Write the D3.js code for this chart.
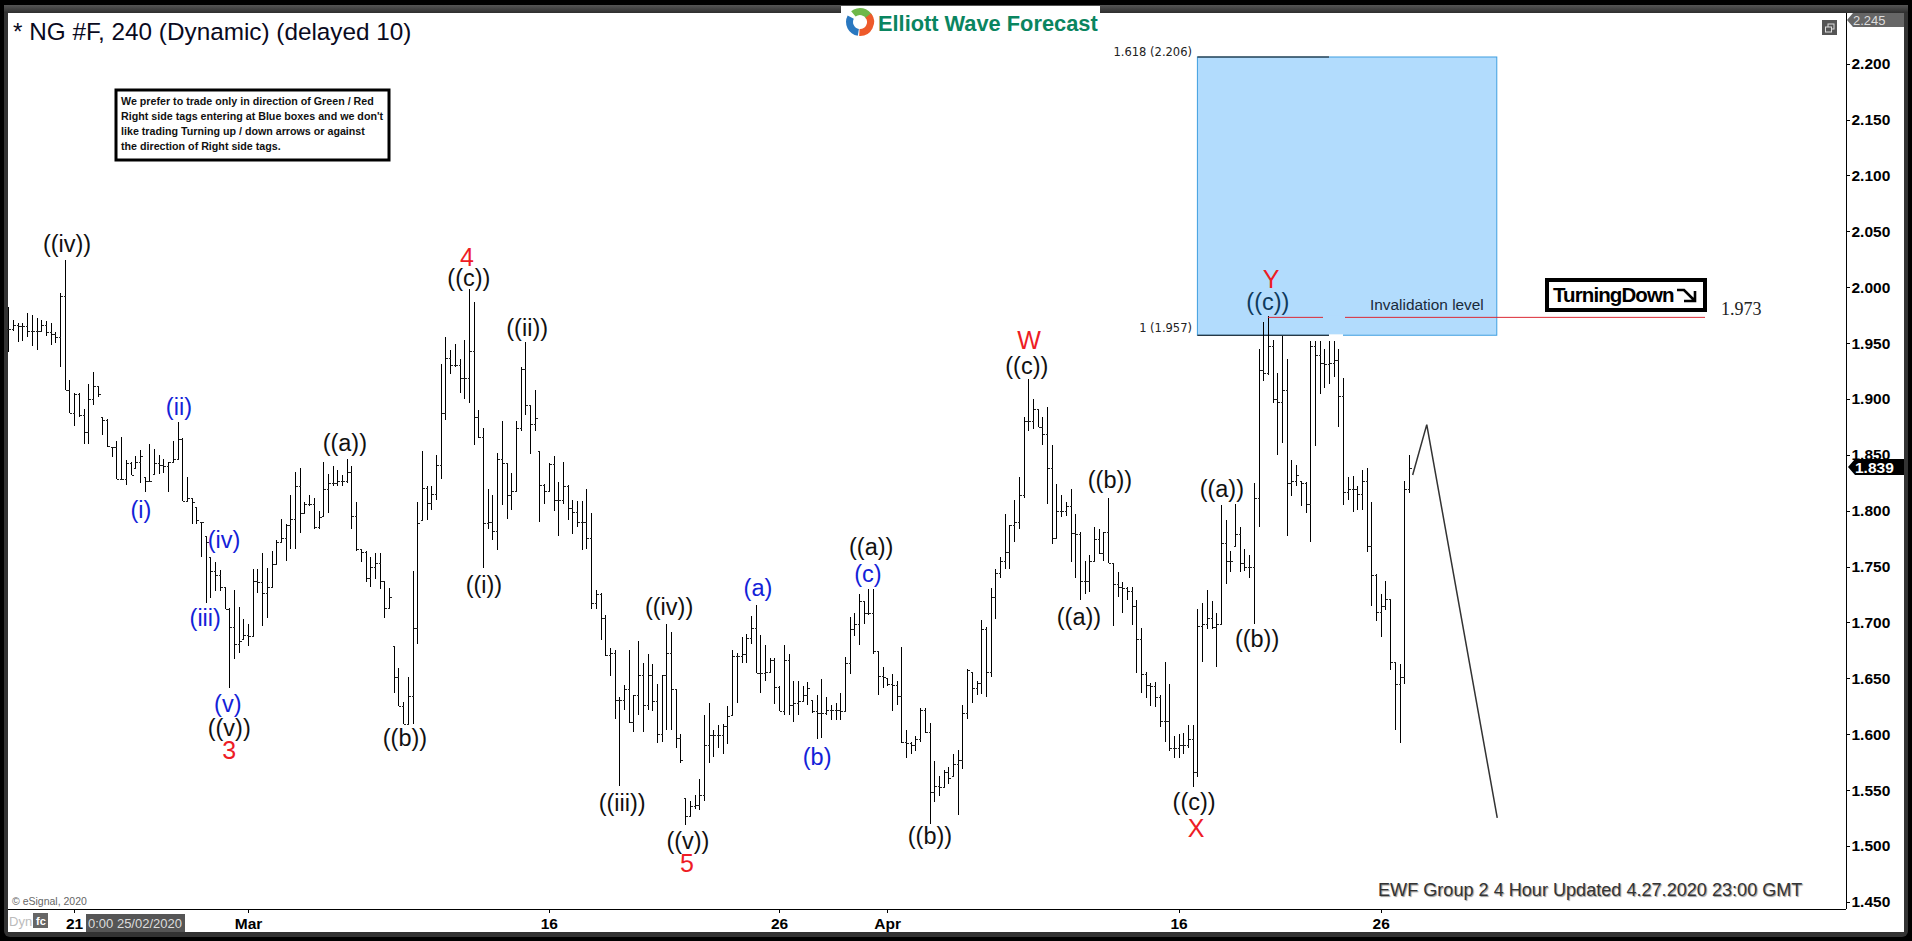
<!DOCTYPE html>
<html><head><meta charset="utf-8">
<style>
html,body{margin:0;padding:0;background:#000;overflow:hidden}
svg{display:block}
text{font-family:"Liberation Sans",Arial,sans-serif}
.axis text{font-weight:700;font-size:15.5px;fill:#000;font-family:"Liberation Sans",Arial,sans-serif}
.axis path,.axis line{stroke:#000;stroke-width:1px;shape-rendering:crispEdges}
</style>
<script src="https://cdn.jsdelivr.net/npm/d3@7/dist/d3.min.js"></script>
</head><body>
<svg id="c" width="1912" height="941"></svg>
<script>
// 4-hour bars, NG #F
const highs=[1.982,1.971,1.968,1.968,1.977,1.975,1.972,1.971,1.970,1.968,1.960,1.995,2.024,1.917,1.905,1.905,1.891,1.913,1.924,1.912,
1.884,1.882,1.857,1.862,1.866,1.845,1.844,1.849,1.854,1.830,1.860,1.855,1.850,1.846,1.844,1.862,1.879,1.865,1.830,1.811,
1.803,1.790,1.777,1.759,1.754,1.747,1.732,1.713,1.729,1.714,1.703,1.699,1.748,1.748,1.762,1.749,1.764,1.774,1.793,1.788,
1.814,1.835,1.838,1.808,1.814,1.811,1.800,1.844,1.833,1.840,1.836,1.832,1.846,1.840,1.808,1.766,1.764,1.759,1.762,1.762,
1.737,1.731,1.679,1.659,1.629,1.651,1.746,1.808,1.853,1.822,1.822,1.850,1.931,1.955,1.944,1.949,1.936,1.953,1.998,1.987,
1.890,1.874,1.819,1.814,1.852,1.880,1.843,1.834,1.880,1.929,1.951,1.895,1.908,1.853,1.824,1.843,1.849,1.826,1.844,1.823,
1.810,1.809,1.809,1.819,1.798,1.729,1.726,1.707,1.677,1.675,1.633,1.644,1.675,1.635,1.683,1.664,1.672,1.663,1.645,1.653,
1.699,1.691,1.640,1.600,1.543,1.540,1.546,1.560,1.617,1.628,1.604,1.608,1.609,1.625,1.675,1.673,1.687,1.690,1.706,1.716,
1.689,1.680,1.668,1.668,1.643,1.680,1.672,1.648,1.648,1.643,1.647,1.631,1.635,1.649,1.633,1.626,1.628,1.637,1.669,1.705,
1.708,1.725,1.719,1.730,1.730,1.674,1.660,1.650,1.654,1.648,1.678,1.604,1.593,1.598,1.623,1.623,1.610,1.576,1.563,1.568,
1.571,1.582,1.586,1.626,1.658,1.656,1.648,1.702,1.696,1.731,1.748,1.759,1.797,1.787,1.810,1.830,1.884,1.918,1.900,1.891,
1.884,1.893,1.859,1.824,1.814,1.808,1.819,1.797,1.781,1.755,1.760,1.785,1.784,1.781,1.811,1.753,1.745,1.736,1.732,1.732,
1.720,1.695,1.656,1.646,1.647,1.635,1.665,1.645,1.598,1.600,1.601,1.608,1.608,1.712,1.717,1.729,1.719,1.708,1.805,1.792,
1.764,1.806,1.785,1.766,1.760,1.825,1.945,1.969,1.974,1.953,1.923,1.956,1.936,1.845,1.841,1.827,1.826,1.952,1.952,1.952,
1.945,1.952,1.952,1.945,1.919,1.830,1.831,1.822,1.836,1.838,1.808,1.743,1.725,1.737,1.721,1.665,1.663,1.827,1.850];
const lows=[1.942,1.961,1.951,1.952,1.955,1.947,1.944,1.961,1.956,1.948,1.950,1.929,1.908,1.887,1.876,1.884,1.860,1.860,1.895,1.902,
1.868,1.857,1.848,1.828,1.828,1.823,1.832,1.838,1.825,1.817,1.827,1.833,1.833,1.834,1.817,1.844,1.846,1.809,1.809,1.788,
1.788,1.759,1.717,1.722,1.728,1.728,1.712,1.641,1.667,1.673,1.685,1.679,1.687,1.726,1.697,1.704,1.731,1.752,1.772,1.755,
1.766,1.766,1.780,1.798,1.804,1.784,1.784,1.795,1.798,1.822,1.822,1.822,1.825,1.784,1.764,1.754,1.736,1.732,1.739,1.730,
1.704,1.712,1.637,1.625,1.609,1.609,1.609,1.681,1.792,1.792,1.801,1.810,1.828,1.881,1.922,1.929,1.905,1.900,1.896,1.859,
1.865,1.749,1.784,1.774,1.765,1.805,1.793,1.801,1.818,1.871,1.886,1.851,1.871,1.790,1.806,1.818,1.800,1.777,1.806,1.792,
1.779,1.785,1.765,1.766,1.712,1.712,1.684,1.670,1.652,1.614,1.554,1.622,1.610,1.602,1.617,1.602,1.622,1.621,1.592,1.593,
1.604,1.604,1.588,1.574,1.519,1.527,1.533,1.532,1.540,1.574,1.580,1.588,1.582,1.591,1.617,1.628,1.664,1.664,1.681,1.655,
1.637,1.648,1.655,1.627,1.621,1.617,1.617,1.611,1.617,1.630,1.626,1.619,1.596,1.597,1.617,1.613,1.613,1.613,1.621,1.654,
1.688,1.680,1.699,1.707,1.672,1.635,1.641,1.643,1.621,1.626,1.592,1.579,1.582,1.585,1.593,1.601,1.520,1.539,1.545,1.553,
1.555,1.563,1.528,1.569,1.614,1.628,1.635,1.636,1.633,1.651,1.703,1.740,1.748,1.748,1.772,1.784,1.811,1.871,1.873,1.875,
1.859,1.806,1.770,1.776,1.794,1.795,1.754,1.740,1.720,1.725,1.727,1.755,1.761,1.755,1.753,1.697,1.723,1.708,1.720,1.698,
1.655,1.637,1.632,1.625,1.624,1.606,1.593,1.585,1.579,1.579,1.582,1.588,1.553,1.562,1.665,1.694,1.694,1.660,1.698,1.734,
1.745,1.768,1.745,1.746,1.740,1.699,1.785,1.916,1.921,1.896,1.850,1.861,1.777,1.813,1.822,1.804,1.798,1.772,1.858,1.904,
1.910,1.913,1.920,1.875,1.805,1.810,1.799,1.801,1.801,1.763,1.715,1.701,1.687,1.711,1.657,1.604,1.592,1.645,1.816];
const closes=[1.963,1.966,1.965,1.965,1.961,1.961,1.961,1.966,1.960,1.958,1.955,1.992,1.908,1.887,1.904,1.886,1.870,1.900,1.912,1.904,
1.881,1.858,1.857,1.828,1.828,1.843,1.832,1.844,1.849,1.827,1.827,1.843,1.841,1.840,1.844,1.846,1.864,1.809,1.811,1.808,
1.792,1.790,1.772,1.746,1.742,1.732,1.712,1.696,1.681,1.683,1.689,1.688,1.737,1.736,1.726,1.732,1.752,1.772,1.776,1.787,
1.793,1.822,1.798,1.806,1.806,1.785,1.794,1.819,1.825,1.825,1.827,1.827,1.835,1.795,1.766,1.763,1.740,1.750,1.753,1.737,
1.713,1.723,1.651,1.625,1.609,1.634,1.695,1.789,1.820,1.807,1.815,1.841,1.887,1.937,1.930,1.930,1.919,1.919,1.943,1.884,
1.866,1.789,1.790,1.782,1.846,1.843,1.814,1.818,1.874,1.927,1.895,1.878,1.883,1.823,1.818,1.842,1.810,1.810,1.822,1.802,
1.799,1.790,1.790,1.776,1.717,1.725,1.704,1.671,1.673,1.631,1.631,1.640,1.611,1.635,1.653,1.626,1.653,1.630,1.600,1.653,
1.673,1.640,1.597,1.577,1.527,1.536,1.537,1.546,1.590,1.599,1.599,1.599,1.607,1.616,1.670,1.670,1.672,1.686,1.695,1.655,
1.655,1.656,1.666,1.642,1.621,1.666,1.626,1.628,1.630,1.635,1.641,1.621,1.619,1.619,1.622,1.622,1.622,1.621,1.664,1.694,
1.699,1.719,1.708,1.708,1.674,1.652,1.651,1.645,1.644,1.634,1.593,1.592,1.590,1.596,1.622,1.602,1.548,1.554,1.553,1.566,
1.561,1.573,1.577,1.619,1.657,1.641,1.646,1.694,1.656,1.723,1.744,1.755,1.763,1.787,1.790,1.814,1.880,1.880,1.891,1.875,
1.869,1.838,1.776,1.800,1.800,1.804,1.780,1.779,1.737,1.737,1.755,1.775,1.762,1.781,1.753,1.734,1.732,1.731,1.728,1.715,
1.685,1.654,1.644,1.643,1.633,1.612,1.612,1.588,1.588,1.590,1.590,1.596,1.566,1.697,1.699,1.704,1.696,1.699,1.771,1.755,
1.755,1.779,1.753,1.750,1.750,1.811,1.926,1.923,1.947,1.900,1.897,1.908,1.825,1.827,1.832,1.825,1.806,1.947,1.939,1.932,
1.931,1.932,1.935,1.903,1.817,1.819,1.819,1.815,1.827,1.768,1.742,1.709,1.715,1.721,1.665,1.645,1.651,1.819,1.838];

// x axis (bar index of each labelled date)
const dateTickBars=[14,51,115,164,187,249,292];
const dateTickLabels=["21","Mar","16","26","Apr","16","26"];
// y axis
const priceTicks=[2.2,2.15,2.1,2.05,2.0,1.95,1.9,1.85,1.8,1.75,1.7,1.65,1.6,1.55,1.5,1.45];
// wave labels
const blackText=["((iv))","((a))","((b))","((v))","((c))","((i))","((ii))","((iii))","((iv))","((v))","((a))","((b))","((c))","((a))","((b))","((c))","((a))","((b))"];
const blackBar=[12.5,71.6,84.4,47,98,101.2,110.4,130.6,140.6,144.6,183.6,196.1,216.7,227.8,234.4,252.3,258.2,265.7];
const blackPrice=[2.039,1.861,1.597,1.606,2.009,1.734,1.964,1.539,1.714,1.505,1.768,1.509,1.930,1.705,1.828,1.540,1.820,1.686];
const blueText=["(ii)","(i)","(iv)","(iii)","(v)","(a)","(c)","(b)"];
const blueBar=[36.3,28.2,45.9,41.9,46.7,159.5,182.9,172.1];
const bluePrice=[1.893,1.801,1.774,1.704,1.627,1.731,1.744,1.580];
const redText=["3","4","5","W","X","Y"];
const redBar=[47,97.6,144.4,217.2,252.7,268.7];
const redPrice=[1.586,2.027,1.485,1.953,1.516,2.007];
// blue box and levels
const boxBars=[253,316.7];
const boxEdgeBar=281;
const boxPrices=[2.206,1.957];
const invalidation=1.973;
const invalidationBars=[268,361];
const projBars=[298.8,301.8,316.8];
const projPrices=[1.832,1.877,1.525];
const lastPrice=1.839;

const svg=d3.select("#c");
const W=1912,H=941;
const x=d3.scaleLinear().domain([0,298]).range([8.3,1408.9]);
const y=d3.scaleLinear().domain([2.2,1.45]).range([63.7,901.8]);
const axisX=1846,axisY=909;

// frame
svg.append("rect").attr("width",W).attr("height",H).attr("fill","#000");
const grad=svg.append("defs").append("linearGradient").attr("id","tb").attr("x2",0).attr("y2",1);
grad.append("stop").attr("offset",0).attr("stop-color","#555");
grad.append("stop").attr("offset",1).attr("stop-color","#2e2e2e");
svg.append("rect").attr("x",4).attr("y",5).attr("width",1904).attr("height",932).attr("rx",6).attr("fill","#333");
svg.append("rect").attr("x",4).attr("y",5).attr("width",1904).attr("height",8).attr("fill","url(#tb)");
svg.append("rect").attr("x",8).attr("y",13).attr("width",1896).attr("height",919).attr("fill","#fff");

// blue box
const bx0=x(boxBars[0]),bx1=x(boxBars[1]),by0=y(boxPrices[0]),by1=y(boxPrices[1]);
svg.append("rect").attr("x",bx0).attr("y",by0).attr("width",bx1-bx0).attr("height",by1-by0)
  .attr("fill","#b2dcfd").attr("stroke","#3f9fe0").attr("stroke-width",1);
[by0,by1].forEach(v=>svg.append("line").attr("x1",bx0).attr("x2",x(boxEdgeBar)).attr("y1",v).attr("y2",v).attr("stroke","#111").attr("stroke-width",1.2));
svg.append("line").attr("x1",x(boxEdgeBar)).attr("x2",x(boxEdgeBar)+14).attr("y1",by1).attr("y2",by1).attr("stroke","#fff").attr("stroke-width",2);

// OHLC bars
const bars=svg.append("g").attr("stroke","#000").attr("stroke-width",1).attr("shape-rendering","crispEdges");
const rows=d3.range(highs.length).map(i=>({i,h:highs[i],l:lows[i],c:closes[i],o:i?closes[i-1]:closes[0]}));
const px=v=>Math.round(v)+.5;
const clampOpen=d=>Math.min(d.h,Math.max(d.l,d.o));
bars.selectAll(".hl").data(rows).join("line").attr("x1",d=>px(x(d.i))).attr("x2",d=>px(x(d.i))).attr("y1",d=>y(d.h)).attr("y2",d=>y(d.l));
bars.selectAll(".o").data(rows).join("line").attr("stroke","#222").attr("x1",d=>px(x(d.i))-2).attr("x2",d=>px(x(d.i))).attr("y1",d=>px(y(clampOpen(d)))).attr("y2",d=>px(y(clampOpen(d))));
bars.selectAll(".c").data(rows).join("line").attr("stroke","#222").attr("x1",d=>px(x(d.i))).attr("x2",d=>px(x(d.i))+2).attr("y1",d=>px(y(d.c))).attr("y2",d=>px(y(d.c)));

// invalidation line
svg.append("line").attr("x1",x(invalidationBars[0])).attr("x2",x(invalidationBars[1])).attr("y1",y(invalidation)).attr("y2",y(invalidation))
  .attr("stroke","#dc2a35").attr("stroke-width",1);
svg.append("rect").attr("x",1323).attr("y",y(invalidation)-2).attr("width",22).attr("height",4).attr("fill","#b2dcfd");
svg.append("text").attr("x",1370).attr("y",310).attr("font-size",15.4).attr("fill","#1a2a3a").text("Invalidation level");
svg.append("text").attr("x",1721).attr("y",315).attr("font-size",18).attr("fill","#222").style("font-family","Liberation Serif").text(d3.format(".3f")(invalidation));
svg.append("text").attr("x",1192).attr("y",56).attr("text-anchor","end").attr("font-size",11.5).attr("fill","#222").style("font-family","DejaVu Sans").text("1.618 (2.206)");
svg.append("text").attr("x",1192).attr("y",332).attr("text-anchor","end").attr("font-size",11.5).attr("fill","#222").style("font-family","DejaVu Sans").text("1 (1.957)");

// projection
svg.append("path").attr("d",d3.line().x((d,i)=>x(projBars[i])).y(d=>y(d))(projPrices)).attr("fill","none").attr("stroke","#333").attr("stroke-width",1.5);

// wave labels
function labels(txt,bar,price,color,size){
  svg.append("g").selectAll("text").data(txt).join("text")
    .attr("x",(d,i)=>x(bar[i])).attr("y",(d,i)=>y(price[i])).attr("dy","0.36em")
    .attr("text-anchor","middle").attr("font-size",size).attr("fill",color).text(d=>d);
}
labels(blackText,blackBar,blackPrice,"#111",23.5);
labels(["((c))"],[268],[1.987],"#0e3a5c",23.5);
labels(blueText,blueBar,bluePrice,"#1322d8",23.5);
labels(redText,redBar,redPrice,"#ee1c25",25);

// axes
const gy=svg.append("g").attr("class","axis").attr("transform",`translate(${axisX+.5},0)`)
  .call(d3.axisRight(y).tickValues(priceTicks).tickFormat(d3.format(".3f")).tickSize(3).tickPadding(2));
gy.select(".domain").attr("d",`M0,13V${axisY}`);
const gx=svg.append("g").attr("class","axis").attr("transform",`translate(0,${axisY+.5})`)
  .call(d3.axisBottom(x).tickValues(dateTickBars).tickFormat((d,i)=>dateTickLabels[i]).tickSize(3).tickPadding(5));
gx.select(".domain").attr("d",`M8,0H${axisX}`);

// top-right price tag
svg.append("path").attr("d","M1847,20l6,-7h51v14h-51z").attr("fill","#666");
svg.append("text").attr("x",1853).attr("y",25).attr("font-size",13).attr("fill","#ddd").text("2.245");
// last price tag
svg.append("path").attr("d",`M1848,${y(lastPrice)}l7,-8h49v16h-49z`).attr("fill","#000");
svg.append("text").attr("x",1855).attr("y",y(lastPrice)+5.5).attr("font-size",15.5).attr("font-weight",700).attr("fill","#fff").text(d3.format(".3f")(lastPrice));

// restore icon
svg.append("rect").attr("x",1822).attr("y",20).attr("width",15).attr("height",15).attr("fill","#555");
svg.append("rect").attr("x",1828).attr("y",24).attr("width",6).attr("height",5).attr("fill","none").attr("stroke","#ddd");
svg.append("rect").attr("x",1825.5).attr("y",27).attr("width",6).attr("height",5).attr("fill","#555").attr("stroke","#ddd");

// title
svg.append("text").attr("x",13).attr("y",40).attr("font-size",24.3).attr("fill","#0a0a1e").text("* NG #F, 240 (Dynamic) (delayed 10)");

// note box
svg.append("rect").attr("x",116).attr("y",90).attr("width",273).attr("height",70).attr("fill","#fff").attr("stroke","#000").attr("stroke-width",3);
const noteLines=["We prefer to trade only in direction of Green / Red","Right side tags entering at Blue boxes and we don't","like trading Turning up / down arrows or against","the direction of Right side tags."];
svg.append("g").selectAll("text").data(noteLines).join("text").attr("x",121).attr("y",(d,i)=>104.5+i*15).attr("font-size",10.7).attr("font-weight",700).attr("fill","#111").text(d=>d);

// turning down
svg.append("rect").attr("x",1547).attr("y",280).attr("width",158).attr("height",30).attr("fill","#fff").attr("stroke","#000").attr("stroke-width",4);
svg.append("text").attr("x",1553).attr("y",302).attr("font-size",20.5).attr("font-weight",700).attr("letter-spacing","-0.9").attr("fill","#000").text("TurningDown");
svg.append("path").attr("d","M1677,290h7l10,10M1695,291v10h-11").attr("fill","none").attr("stroke","#000").attr("stroke-width",2.6);

// logo
svg.append("rect").attr("x",841).attr("y",6).attr("width",259).attr("height",34).attr("fill","#fff");
const arc=d3.arc().innerRadius(7).outerRadius(14);
const logo=svg.append("g").attr("transform","translate(860,22)");
[["#2a78c0",3.3,5.2],["#6fb84a",5.6,7.4],["#ee5a2a",0.9,3.2]].forEach(s=>logo.append("path").attr("d",arc({startAngle:s[1],endAngle:s[2]})).attr("fill",s[0]));
svg.append("text").attr("x",878).attr("y",31).attr("font-size",21.8).attr("font-weight",700).attr("fill","#0a8560").text("Elliott Wave Forecast");

// footer
svg.append("text").attr("x",1378).attr("y",896).attr("font-size",18.1).attr("fill","#333").style("text-shadow","1px 1px 1px #999").text("EWF Group 2 4 Hour Updated 4.27.2020 23:00 GMT");
svg.append("text").attr("x",12).attr("y",905).attr("font-size",10.5).attr("fill","#666").text("© eSignal, 2020");
svg.append("text").attr("x",9).attr("y",926).attr("font-size",13).attr("fill","#bbb").text("Dyn");
svg.append("rect").attr("x",33).attr("y",913).attr("width",15).attr("height",15).attr("fill","#666");
svg.append("text").attr("x",36).attr("y",925).attr("font-size",11).attr("font-weight",700).attr("fill","#fff").text("fc");
svg.append("rect").attr("x",86).attr("y",914).attr("width",99).attr("height",18).attr("fill","#555");
svg.append("text").attr("x",88).attr("y",928).attr("font-size",13).attr("fill","#ddd").text("0:00 25/02/2020");
</script>
</body></html>
